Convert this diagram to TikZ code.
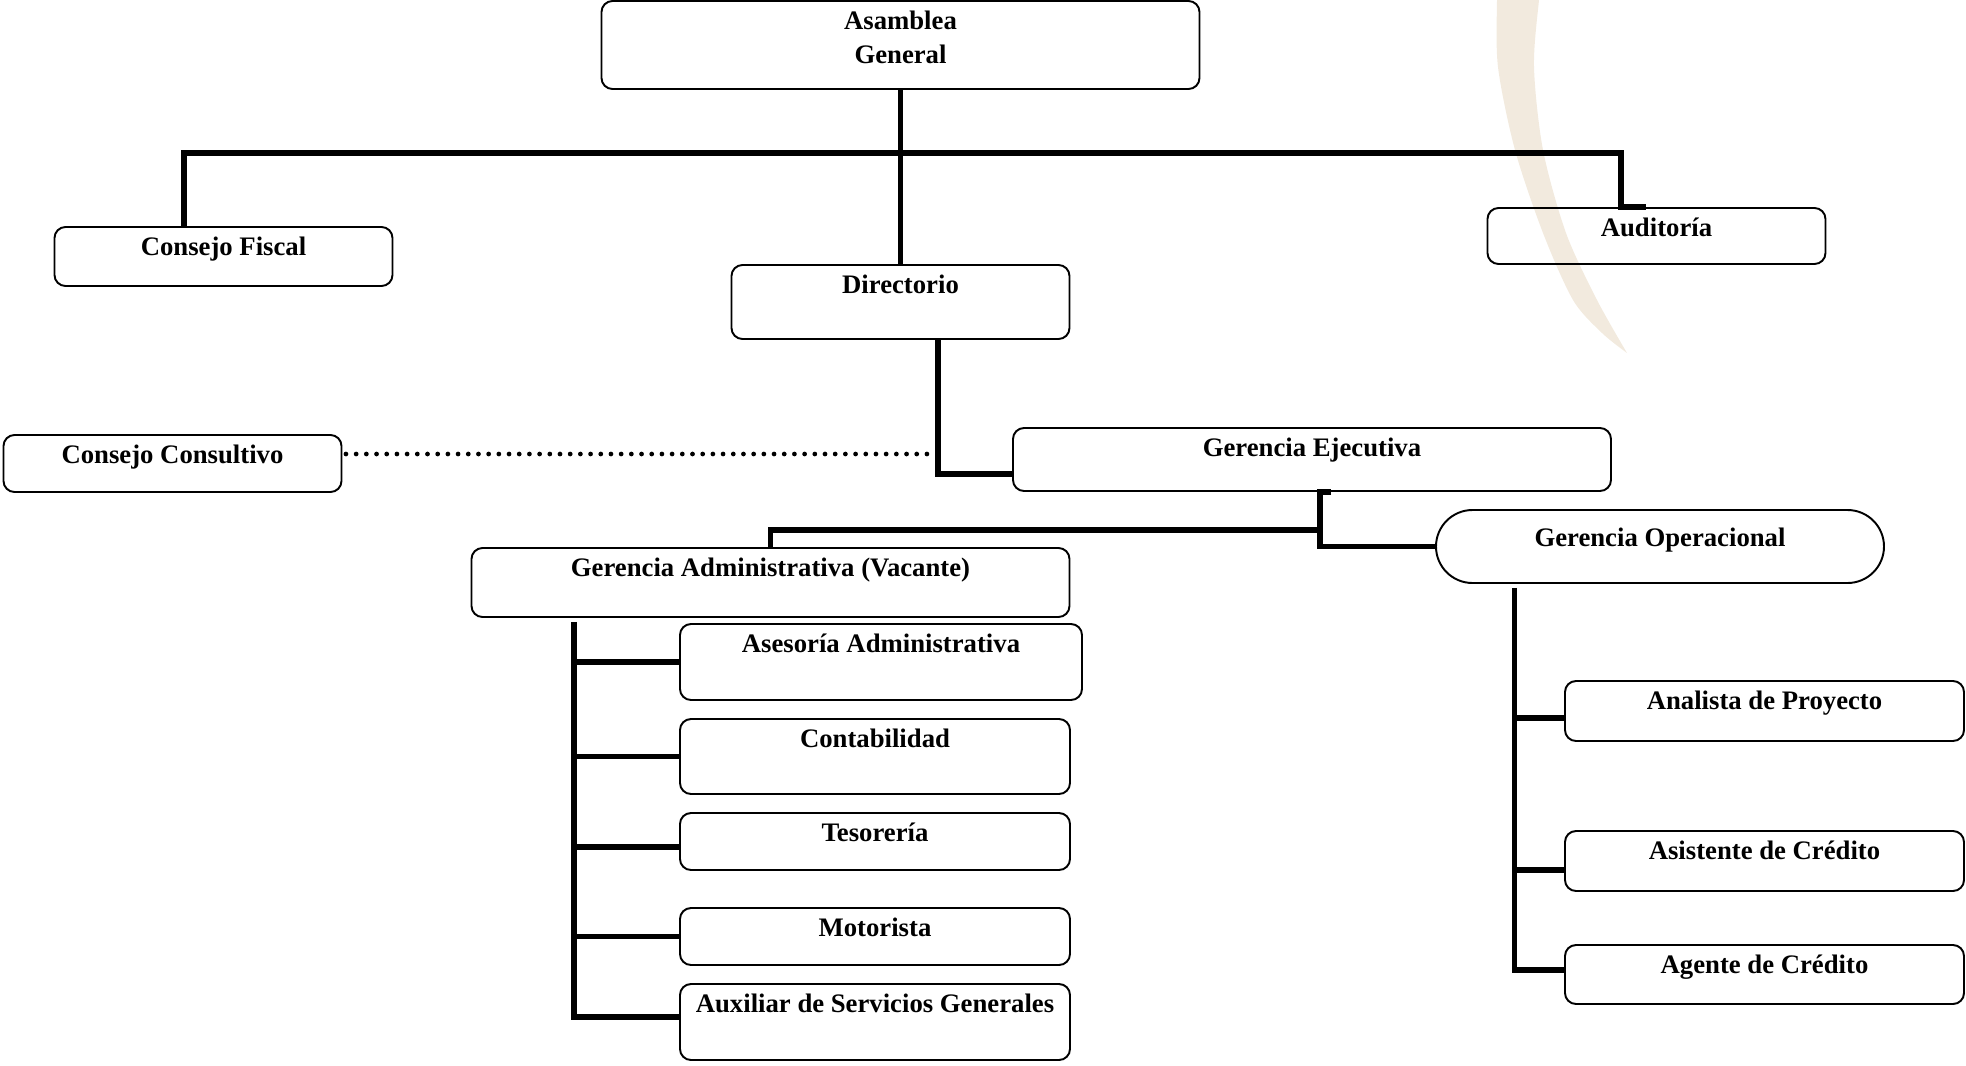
\documentclass[tikz,border=0pt]{standalone}
\usepackage{fontspec}
\setmainfont{Liberation Serif}
\definecolor{crema}{RGB}{242,234,222}

\tikzstyle{unit} = [rectangle, rounded corners=0.22cm, draw=black, line width=1.1pt,
inner ysep=0pt, text height=0.57cm, text centered, font=\bfseries\fontsize{15.2}{19.4}\selectfont]
\tikzstyle{wide} = [unit, minimum width=11.96cm]
\tikzstyle{small} = [unit, minimum width=6.76cm]
\tikzstyle{staff} = [unit, minimum width=7.8cm]
\tikzstyle{field} = [unit, minimum width=7.98cm]
\tikzstyle{link} = [line width=3.1pt]
\tikzstyle{dots} = [line width=2.7pt, line cap=round, dash pattern=on 0pt off 5.8pt]

\begin{document}
\begin{tikzpicture}[node distance=2cm]

  \useasboundingbox (-18.01,-20.40) rectangle (21.31,0.90);

  \fill [crema] plot [smooth] coordinates {(11.95,1.5) (11.93,0.90) (11.95,-0.44) (12.29,-2.10) (12.85,-3.76) (13.45,-5.10) (14.03,-5.76) (14.53,-6.16)}
    -- plot [smooth] coordinates {(14.53,-6.16) (13.93,-5.10) (13.31,-3.76) (12.85,-2.10) (12.67,-0.44) (12.77,0.90) (12.85,1.5)} -- cycle;

  \node (asamblea) [wide, text depth=1.19cm, text width=6cm] {Asamblea\\ General};
  \node (directorio) [small, text depth=0.91cm, below of=asamblea, yshift=-3.14cm] {Directorio};
  \node (fiscal) [small, text depth=0.61cm, left of=directorio, xshift=-11.54cm, yshift=0.91cm] {Consejo Fiscal};
  \node (auditoria) [small, text depth=0.55cm, right of=directorio, xshift=13.12cm, yshift=1.32cm] {Auditoría};

  \node (ejecutiva) [wide, text depth=0.69cm, below of=directorio, xshift=8.23cm, yshift=-1.15cm] {Gerencia Ejecutiva};
  \node (consultivo) [small, text depth=0.57cm, left of=ejecutiva, xshift=-20.79cm, yshift=-0.08cm] {Consejo Consultivo};
  \node (operacional) [unit, minimum width=8.96cm, rounded corners=0.73cm, text height=0.72cm, text depth=0.74cm, below of=ejecutiva, xshift=6.96cm, yshift=0.26cm] {Gerencia Operacional};
  \node (administrativa) [wide, text depth=0.81cm, below of=ejecutiva, xshift=-10.83cm, yshift=-0.46cm] {Gerencia Administrativa (Vacante)};

  \node (asesoria) [unit, minimum width=8.04cm, text depth=0.95cm, below of=administrativa, xshift=2.21cm, yshift=0.41cm] {Asesoría Administrativa};
  \node (contabilidad) [staff, text depth=0.93cm, below of=asesoria, xshift=-0.12cm, yshift=0.11cm] {Contabilidad};
  \node (tesoreria) [staff, text depth=0.57cm, below of=contabilidad, yshift=0.30cm] {Tesorería};
  \node (motorista) [staff, text depth=0.57cm, below of=tesoreria, yshift=0.10cm] {Motorista};
  \node (auxiliar) [staff, text depth=0.95cm, below of=motorista, yshift=0.29cm] {Auxiliar de Servicios Generales};

  \node (analista) [field, text depth=0.63cm, below of=operacional, xshift=2.09cm, yshift=-1.29cm] {Analista de Proyecto};
  \node (asistente) [field, text depth=0.63cm, below of=analista, yshift=-1.00cm] {Asistente de Crédito};
  \node (agente) [field, text depth=0.61cm, below of=asistente, yshift=-0.27cm] {Agente de Crédito};

  \coordinate (bus) at ([yshift=-1.26cm]asamblea.south);
  \coordinate (dotend) at ([xshift=-1.58cm, yshift=0.11cm]ejecutiva.west);
  \coordinate (spineA) at ([xshift=-3.93cm, yshift=-0.08cm]administrativa.south);
  \coordinate (spineO) at ([xshift=-2.91cm, yshift=-0.08cm]operacional.south);

  \draw [link] (asamblea.south) -- (asamblea.south |- directorio.north);
  \draw [link] ([xshift=-0.79cm]fiscal.north) |- (bus) -| ([xshift=-0.71cm]auditoria.north) -- ++(0.5cm,0);

  \draw [link] ([xshift=0.75cm]directorio.south) |- ([yshift=-0.29cm]ejecutiva.west);
  \draw [dots] ([xshift=0.07cm]consultivo.east |- dotend) -- (dotend);

  \draw [link] ([xshift=0.38cm]ejecutiva.south) -- ([xshift=0.16cm]ejecutiva.south) |- (operacional.west);
  \draw [link] ([xshift=0.16cm, yshift=-0.76cm]ejecutiva.south) -| (administrativa.north);

  \draw [link] (spineA) |- ([yshift=0.1cm]auxiliar.west);
  \draw [link] (asesoria.west) -| (spineA);
  \draw [link] (contabilidad.west) -| (spineA);
  \draw [link] ([yshift=-0.11cm]tesoreria.west) -| (spineA);
  \draw [link] (motorista.west) -| (spineA);

  \draw [link] (spineO) |- ([yshift=0.09cm]agente.west);
  \draw [link] ([yshift=-0.14cm]analista.west) -| (spineO);
  \draw [link] ([yshift=-0.18cm]asistente.west) -| (spineO);

\end{tikzpicture}
\end{document}
